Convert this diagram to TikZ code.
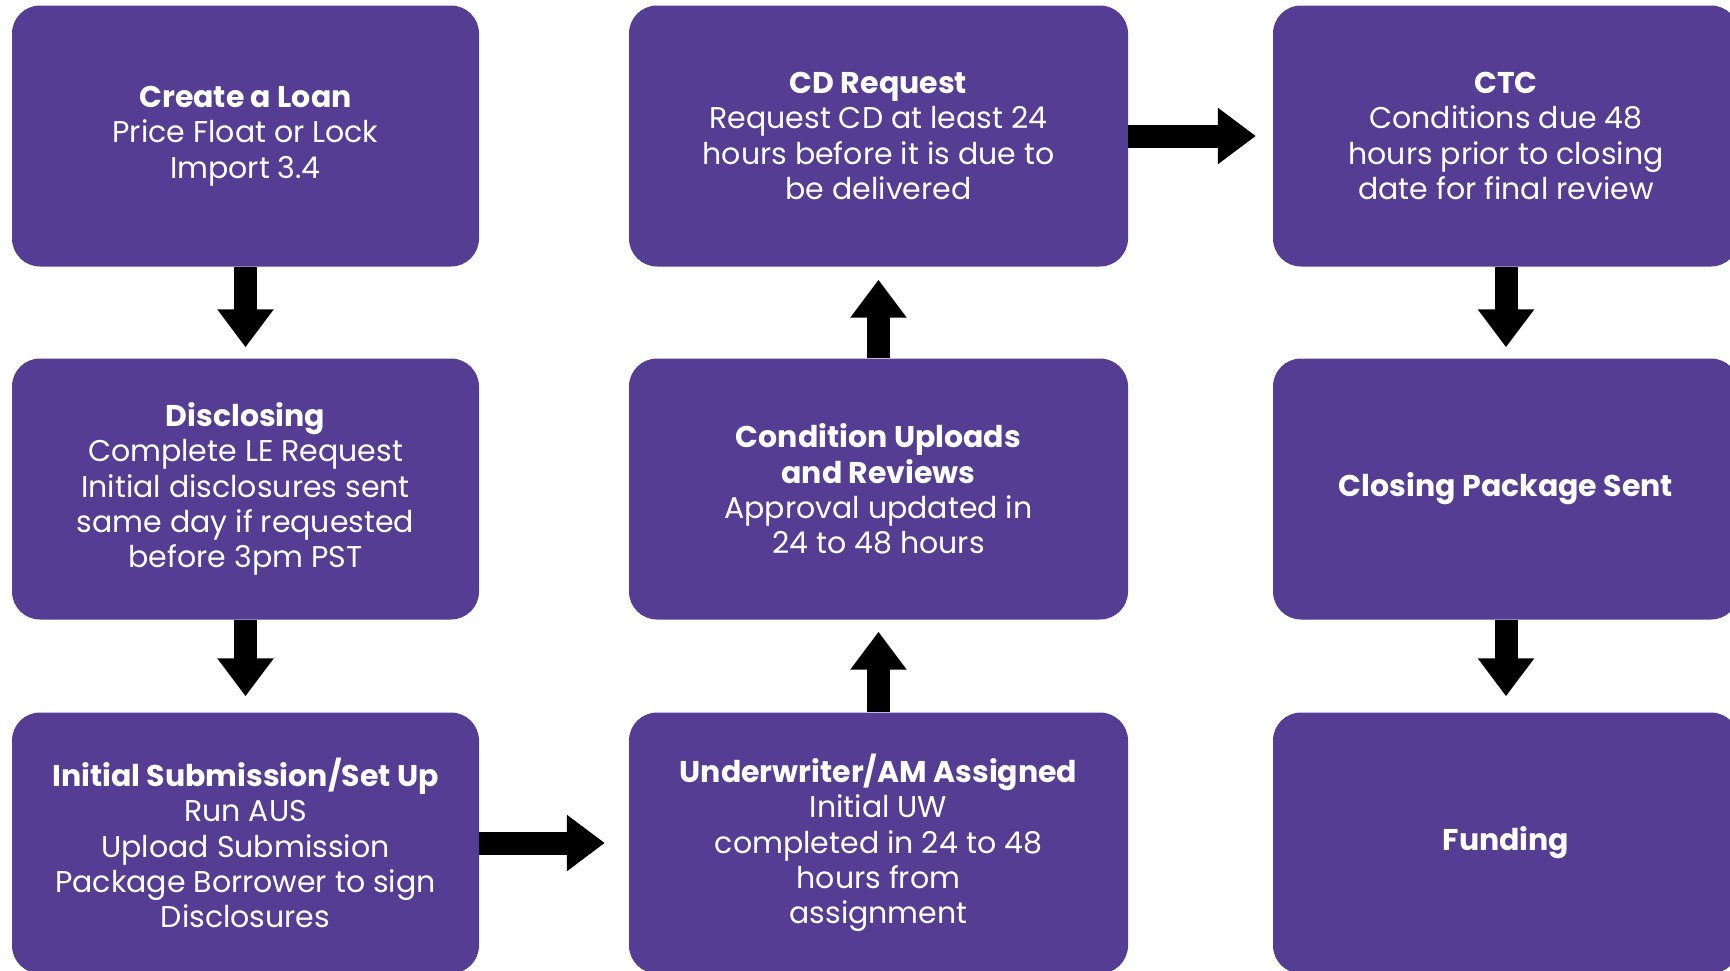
\documentclass[tikz,border=0pt]{standalone}
\usepackage{fontspec}
\setmainfont{Poppins}
\usepackage{xcolor}
\usetikzlibrary{arrows.meta,positioning}
\definecolor{stepviolet}{RGB}{85,61,148}

\begin{document}
\begin{tikzpicture}[x=1pt,y=-1pt,
  stepbox/.style={fill=stepviolet,text=white,rounded corners=28pt,align=center,
    minimum height=261pt,inner sep=0pt,font=\fontsize{30}{35.3}\selectfont},
  flowarrow/.style={line width=23pt,-{Triangle[width=54pt,length=38pt]}}]

\useasboundingbox (0,0) rectangle (1730,970);

\node[stepbox,minimum width=467pt] (loan) at (245.5,136) {\textbf{Create a Loan}\\Price Float or Lock\\Import 3.4};
\node[stepbox,minimum width=467pt] (disclose) at (245.5,489) {\textbf{Disclosing}\\Complete LE Request\\Initial disclosures sent\\same day if requested\\before 3pm PST};
\node[stepbox,minimum width=467pt] (submit) at (245.5,843) {\textbf{Initial Submission/Set Up}\\Run AUS\\Upload Submission\\Package Borrower to sign\\Disclosures};

\node[stepbox,minimum width=499pt] (assign) at (878.5,843) {\textbf{Underwriter/AM Assigned}\\Initial UW\\completed in 24 to 48\\hours from\\assignment};
\node[stepbox,minimum width=499pt] (review) at (878.5,489) {\textbf{Condition Uploads}\\\textbf{and Reviews}\\Approval updated in\\24 to 48 hours};
\node[stepbox,minimum width=499pt] (cdreq) at (878.5,136) {\textbf{CD Request}\\Request CD at least 24\\hours before it is due to\\be delivered};

\node[stepbox,minimum width=466pt] (ctc) at (1506,136) {\textbf{CTC}\\Conditions due 48\\hours prior to closing\\date for final review};
\node[stepbox,minimum width=466pt] (package) at (1506,489) {\textbf{Closing Package Sent}};
\node[stepbox,minimum width=466pt] (funding) at (1506,843) {\textbf{Funding}};

\draw[flowarrow,shorten >=11pt] (loan.south) -- (disclose.north);
\draw[flowarrow,shorten >=16pt] (disclose.south) -- (submit.north);
\draw[flowarrow,shorten >=24pt] (submit.east) -- (assign.west);
\draw[flowarrow,shorten >=12pt] (assign.north) -- (review.south);
\draw[flowarrow,shorten >=13pt] (review.north) -- (cdreq.south);
\draw[flowarrow,shorten >=17pt] (cdreq.east) -- (ctc.west);
\draw[flowarrow,shorten >=11pt] (ctc.south) -- (package.north);
\draw[flowarrow,shorten >=16pt] (package.south) -- (funding.north);

\end{tikzpicture}
\end{document}
